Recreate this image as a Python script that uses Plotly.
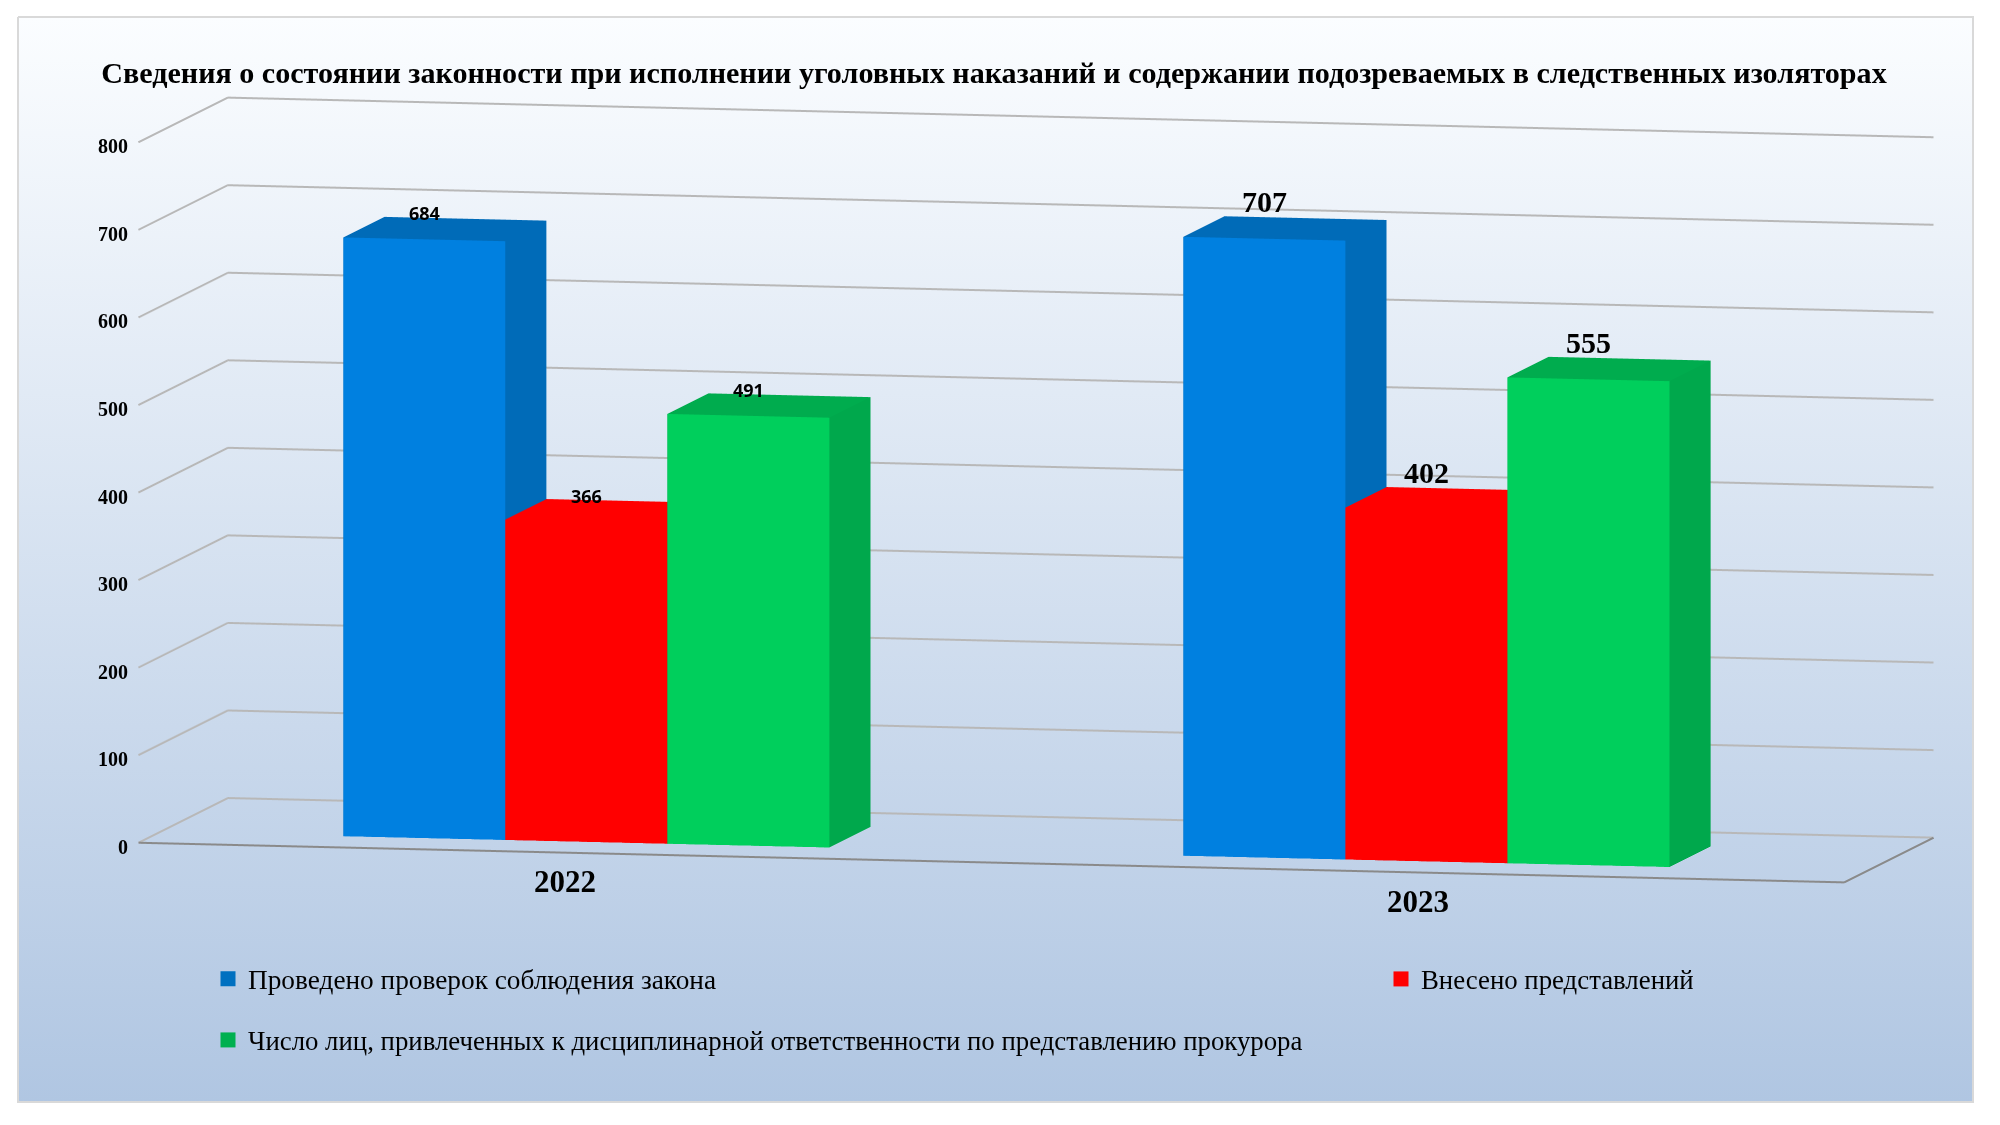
import plotly.graph_objects as go

categories = ["2022", "2023"]
series_names = [
    "Проведено проверок соблюдения закона",
    "Внесено представлений",
    "Число лиц, привлеченных к дисциплинарной ответственности по представлению прокурора",
]
checks = [684, 707]
submissions = [366, 402]
disciplined = [491, 555]
z_ticks = [0, 100, 200, 300, 400, 500, 600, 700, 800]

title_text = "Сведения о состоянии законности при исполнении уголовных наказаний и содержании подозреваемых в следственных изоляторах"

front_colors = ["#0080E0", "#FF0000", "#00CF5C"]
side_colors = ["#006BB8", "#FF0000", "#00A84C"]
top_colors = ["#006BB8", "#FF0000", "#00AC4E"]
legend_colors = ["#0070C0", "#FF0000", "#00B050"]

group_centers = [0.5, 1.485]
category_positions = [0.5, 1.5]
bar_w = 0.19
y_front, y_back = 0.24, 0.70


def box_mesh(values, slot, name):
    xs, ys, zs, I, J, K, fc = [], [], [], [], [], [], []
    for g, v in enumerate(values):
        x0 = group_centers[g] + (slot - 1.5) * bar_w
        x1 = x0 + bar_w
        b = len(xs)
        xs += [x0, x1, x1, x0, x0, x1, x1, x0]
        ys += [y_front, y_front, y_back, y_back, y_front, y_front, y_back, y_back]
        zs += [0, 0, 0, 0, v, v, v, v]
        faces = [
            ((0, 1, 5), front_colors[slot]), ((0, 5, 4), front_colors[slot]),
            ((1, 2, 6), side_colors[slot]), ((1, 6, 5), side_colors[slot]),
            ((4, 5, 6), top_colors[slot]), ((4, 6, 7), top_colors[slot]),
            ((0, 3, 7), side_colors[slot]), ((0, 7, 4), side_colors[slot]),
            ((2, 3, 7), side_colors[slot]), ((2, 7, 6), side_colors[slot]),
        ]
        for (a, c, d), col in faces:
            I.append(b + a); J.append(b + c); K.append(b + d); fc.append(col)
    return go.Mesh3d(x=xs, y=ys, z=zs, i=I, j=J, k=K, facecolor=fc, flatshading=True,
                     name=name, showlegend=False, hoverinfo="skip",
                     lighting=dict(ambient=1, diffuse=0, specular=0, fresnel=0, roughness=1))


fig = go.Figure()

# page background gradient
fig.add_trace(go.Scatter(
    x=[18, 1973, 1973, 18, 18], y=[17, 17, 1102, 1102, 17], mode="lines", fill="toself",
    line=dict(width=2, color="#D9D9D9"), hoverinfo="skip", showlegend=False,
    fillgradient=dict(type="vertical", colorscale=[[0, "#B0C6E2"], [1, "#FBFDFF"]]),
))

for s, vals in enumerate([checks, submissions, disciplined]):
    fig.add_trace(box_mesh(vals, s, series_names[s]))
    fig.add_trace(go.Scatter(
        x=[None], y=[None], mode="markers", name=series_names[s],
        marker=dict(symbol="square", size=15, color=legend_colors[s]),
        legend=["legend", "legend2", "legend3"][s], showlegend=True,
    ))

# wall grid lines, one per tick, from front of the left wall to the back, then across
for t in z_ticks:
    fig.add_trace(go.Scatter3d(
        x=[0, 0, 2], y=[0, 1, 1], z=[t, t, t], mode="lines",
        line=dict(color="#B8B8B8", width=4), showlegend=False, hoverinfo="skip",
    ))

# floor outline
fig.add_trace(go.Scatter3d(
    x=[0, 2, 2], y=[0, 0, 1], z=[0, 0, 0], mode="lines",
    line=dict(color="#8A8A8A", width=4), showlegend=False, hoverinfo="skip",
))

ann = []
for t in z_ticks:
    ann.append(dict(x=0, y=0, z=t, text=f"<b>{t}</b>", showarrow=False, xanchor="right", xshift=-8, yshift=-4,
                    font=dict(family="Liberation Serif", size=20, color="black")))
for g, c in enumerate(categories):
    ann.append(dict(x=category_positions[g], y=0, z=0, text=f"<b>{c}</b>", showarrow=False, yshift=-29,
                    font=dict(family="Liberation Serif", size=31, color="black")))
for slot, vals in enumerate([checks, submissions, disciplined]):
    for g, v in enumerate(vals):
        xc = group_centers[g] + (slot - 1) * bar_w
        if g == 0:
            f = dict(family="Noto Sans", size=18, color="black")
            sh = 26
        else:
            f = dict(family="Liberation Serif", size=30, color="black")
            sh = 37
        ann.append(dict(x=xc, y=y_front, z=v, text=f"<b>{v}</b>", showarrow=False, yshift=sh, font=f))

axis_common = dict(showbackground=False, showticklabels=False, title="", zeroline=False,
                   showspikes=False, ticks="", showline=False, showgrid=False)

E = (0.20942, -0.97189, 0.10775)
D = 1.529
zoom = 1.44
legend_font = dict(family="Liberation Serif", size=26.8, color="black")
fig.update_layout(
    width=2000, height=1125, margin=dict(l=0, r=0, t=0, b=0),
    paper_bgcolor="white", plot_bgcolor="rgba(0,0,0,0)", hovermode=False,
    xaxis=dict(visible=False, range=[8, 2008], domain=[0, 1]),
    yaxis=dict(visible=False, range=[1133, 8], domain=[0, 1]),
    title=dict(text=f"<b>{title_text}</b>", x=0.493, xanchor="center", y=1 - 64 / 1125, yanchor="middle",
               font=dict(family="Liberation Serif", size=30.1, color="black")),
    legend=dict(x=200 / 2000, xanchor="left", y=1 - 971 / 1125, yanchor="middle", bgcolor="rgba(0,0,0,0)",
                font=dict(family="Liberation Serif", size=27.3, color="black")),
    legend2=dict(x=1373 / 2000, xanchor="left", y=1 - 971 / 1125, yanchor="middle", bgcolor="rgba(0,0,0,0)",
                 font=legend_font),
    legend3=dict(x=200 / 2000, xanchor="left", y=1 - 1032 / 1125, yanchor="middle", bgcolor="rgba(0,0,0,0)",
                 font=legend_font),
    scene=dict(
        domain=dict(x=[0.028, 1], y=[0.1431, 1]),
        bgcolor="rgba(0,0,0,0)",
        xaxis=dict(range=[0, 2], **axis_common),
        yaxis=dict(range=[0, 1], **axis_common),
        zaxis=dict(range=[0, 800], tickvals=z_ticks, **axis_common),
        aspectmode="manual",
        aspectratio=dict(x=2.514 * zoom, y=0.612 * zoom, z=1.015 * zoom),
        camera=dict(projection=dict(type="orthographic"),
                    eye=dict(x=E[0] * D, y=E[1] * D, z=E[2] * D),
                    center=dict(x=0, y=0, z=0),
                    up=dict(x=-0.0227, y=0.10533, z=0.99418)),
        annotations=ann,
    ),
)

fig.write_html("out.html")
